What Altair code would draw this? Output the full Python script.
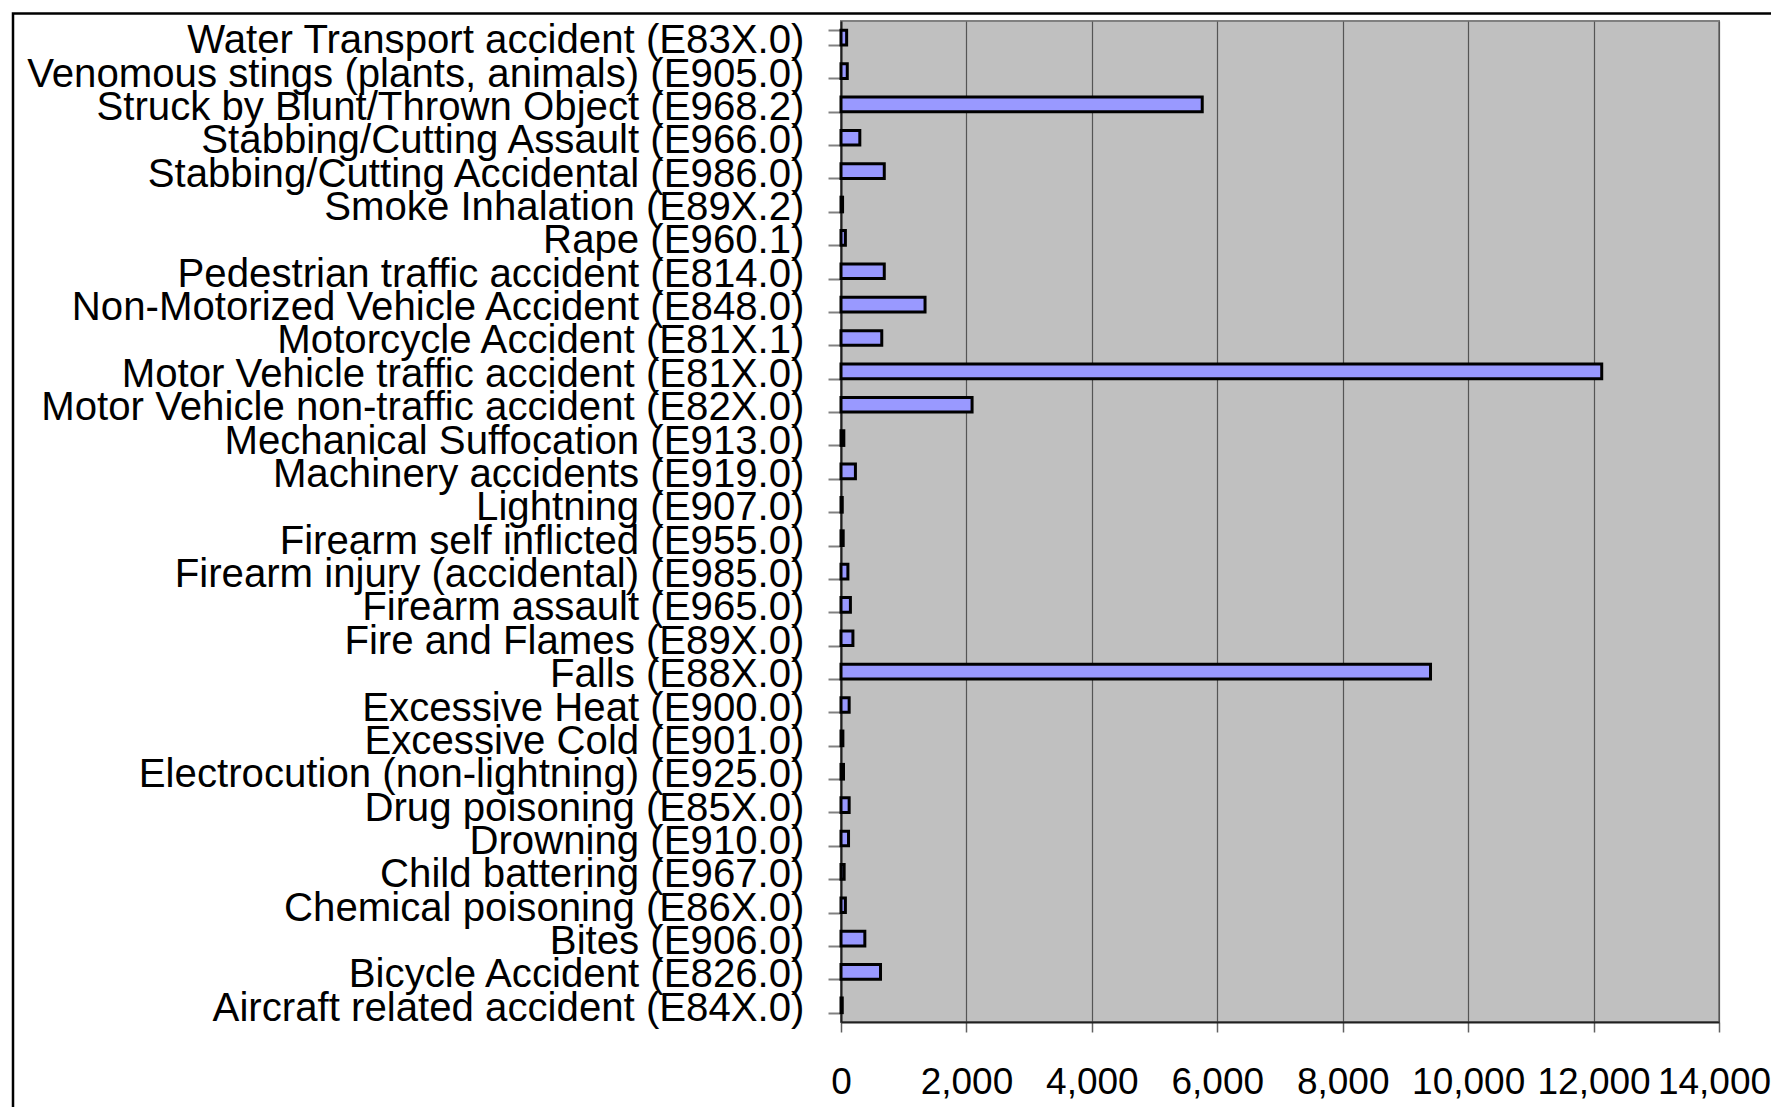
import altair as alt
import pandas as pd

causes = [
    "Water Transport accident (E83X.0)",
    "Venomous stings (plants, animals) (E905.0)",
    "Struck by Blunt/Thrown Object (E968.2)",
    "Stabbing/Cutting Assault (E966.0)",
    "Stabbing/Cutting Accidental (E986.0)",
    "Smoke Inhalation (E89X.2)",
    "Rape (E960.1)",
    "Pedestrian traffic accident (E814.0)",
    "Non-Motorized Vehicle Accident (E848.0)",
    "Motorcycle Accident (E81X.1)",
    "Motor Vehicle traffic accident (E81X.0)",
    "Motor Vehicle non-traffic accident (E82X.0)",
    "Mechanical Suffocation (E913.0)",
    "Machinery accidents (E919.0)",
    "Lightning (E907.0)",
    "Firearm self inflicted (E955.0)",
    "Firearm injury (accidental) (E985.0)",
    "Firearm assault (E965.0)",
    "Fire and Flames (E89X.0)",
    "Falls (E88X.0)",
    "Excessive Heat (E900.0)",
    "Excessive Cold (E901.0)",
    "Electrocution (non-lightning) (E925.0)",
    "Drug poisoning (E85X.0)",
    "Drowning (E910.0)",
    "Child battering (E967.0)",
    "Chemical poisoning (E86X.0)",
    "Bites (E906.0)",
    "Bicycle Accident (E826.0)",
    "Aircraft related accident (E84X.0)",
]

counts = [
    90, 100, 5760, 300, 690, 25, 70, 690, 1340, 650,
    12130, 2090, 45, 230, 20, 35, 110, 150, 190, 9400,
    130, 30, 40, 130, 120, 50, 70, 380, 630, 20,
]

x_ticks = [0, 2000, 4000, 6000, 8000, 10000, 12000, 14000]

df = pd.DataFrame({"cause": causes, "count": counts})

FONT = "Liberation Sans"
W, H = 878, 1001

bars = alt.Chart(df).mark_bar(
    fill="#9999FF", stroke="black", strokeWidth=3
).encode(
    y=alt.Y(
        "cause:N",
        sort=causes,
        scale=alt.Scale(paddingInner=0.56, paddingOuter=0.28),
        axis=alt.Axis(
            title=None,
            labelFont=FONT,
            labelFontSize=40.2,
            labelColor="black",
            labelPadding=24,
            labelOffset=3,
            labelLimit=0,
            tickSize=13,
            tickColor="#808080",
            tickWidth=2,
            tickBand="extent",
            domainColor="#202020",
            domainWidth=2,
            grid=False,
        ),
    ),
    x=alt.X(
        "count:Q",
        scale=alt.Scale(domain=[0, 14000], nice=False),
        axis=alt.Axis(
            title=None,
            values=x_ticks,
            format=",d",
            labelFont=FONT,
            labelFontSize=37,
            labelColor="black",
            labelBaseline="alphabetic",
            labelPadding=61,
            labelOffset={"condition": {"test": "datum.value === 14000", "value": -5}, "value": 0},
            labelFlush=False,
            labelOverlap=False,
            tickSize=10,
            tickColor="#606060",
            tickWidth=1.5,
            grid=True,
            gridColor="#555555",
            gridWidth=1.2,
            domainColor="#202020",
            domainWidth=2,
        ),
    ),
)

frame = alt.Chart(alt.Data(values=[{"a": 1}])).mark_rect(
    fillOpacity=0, stroke="black", strokeWidth=2.5
).encode(
    x=alt.value(-828), x2=alt.value(W + 200),
    y=alt.value(-7.5), y2=alt.value(H + 300),
)

chart = alt.layer(frame, bars).properties(
    width=W,
    height=H,
    autosize=alt.AutoSizeParams(type="none"),
    padding={"left": 833, "top": 13, "right": 52, "bottom": 85},
).configure_view(
    fill="#C0C0C0", stroke="#808080", strokeWidth=2
)

chart.save("out.html", embed_options={"renderer": "svg", "actions": False})
